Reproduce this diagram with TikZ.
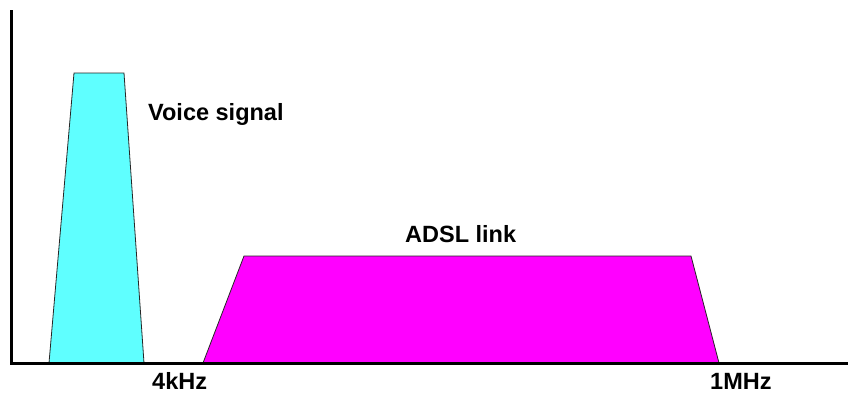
\documentclass[tikz,border=0pt]{standalone}
\usepackage{fontspec}
\setmainfont{Liberation Sans}
\usetikzlibrary{positioning}
\definecolor{voicecol}{RGB}{95,255,255}
\definecolor{adslcol}{RGB}{255,0,255}

\begin{document}
\begin{tikzpicture}[
    x=1pt, y=-1pt,
    axis/.style={line width=3pt},
    band/.style={draw=black!85, line width=0.8pt, line join=miter},
    lbl/.style={font=\bfseries\fontsize{23.5}{28}\selectfont, inner sep=0pt, anchor=base west}
    ]
    \useasboundingbox (0,0) rectangle (848,394);

    % Axes
    \coordinate (top) at (11,10);
    \coordinate (origin) at (11,363);
    \coordinate (right) at (848,363);

    % Voice band
    \fill[voicecol, band] (49,363) -- (74,73) -- (124,73) -- (144,363) -- cycle;
    \node[lbl] (voice) at (148,120) {Voice signal};

    % ADSL band
    \fill[adslcol, band] (203,363) -- (244,256) -- (691,256) -- (719,363) -- cycle;
    \node[lbl] (adsl) at (405,242) {ADSL link};

    \draw[axis] (top) -- (origin) -- (right);

    % Frequencies
    \node[lbl] (low) at (152,389) {4kHz};
    \node[lbl] (high) at (710,389) {1MHz};
\end{tikzpicture}
\end{document}
